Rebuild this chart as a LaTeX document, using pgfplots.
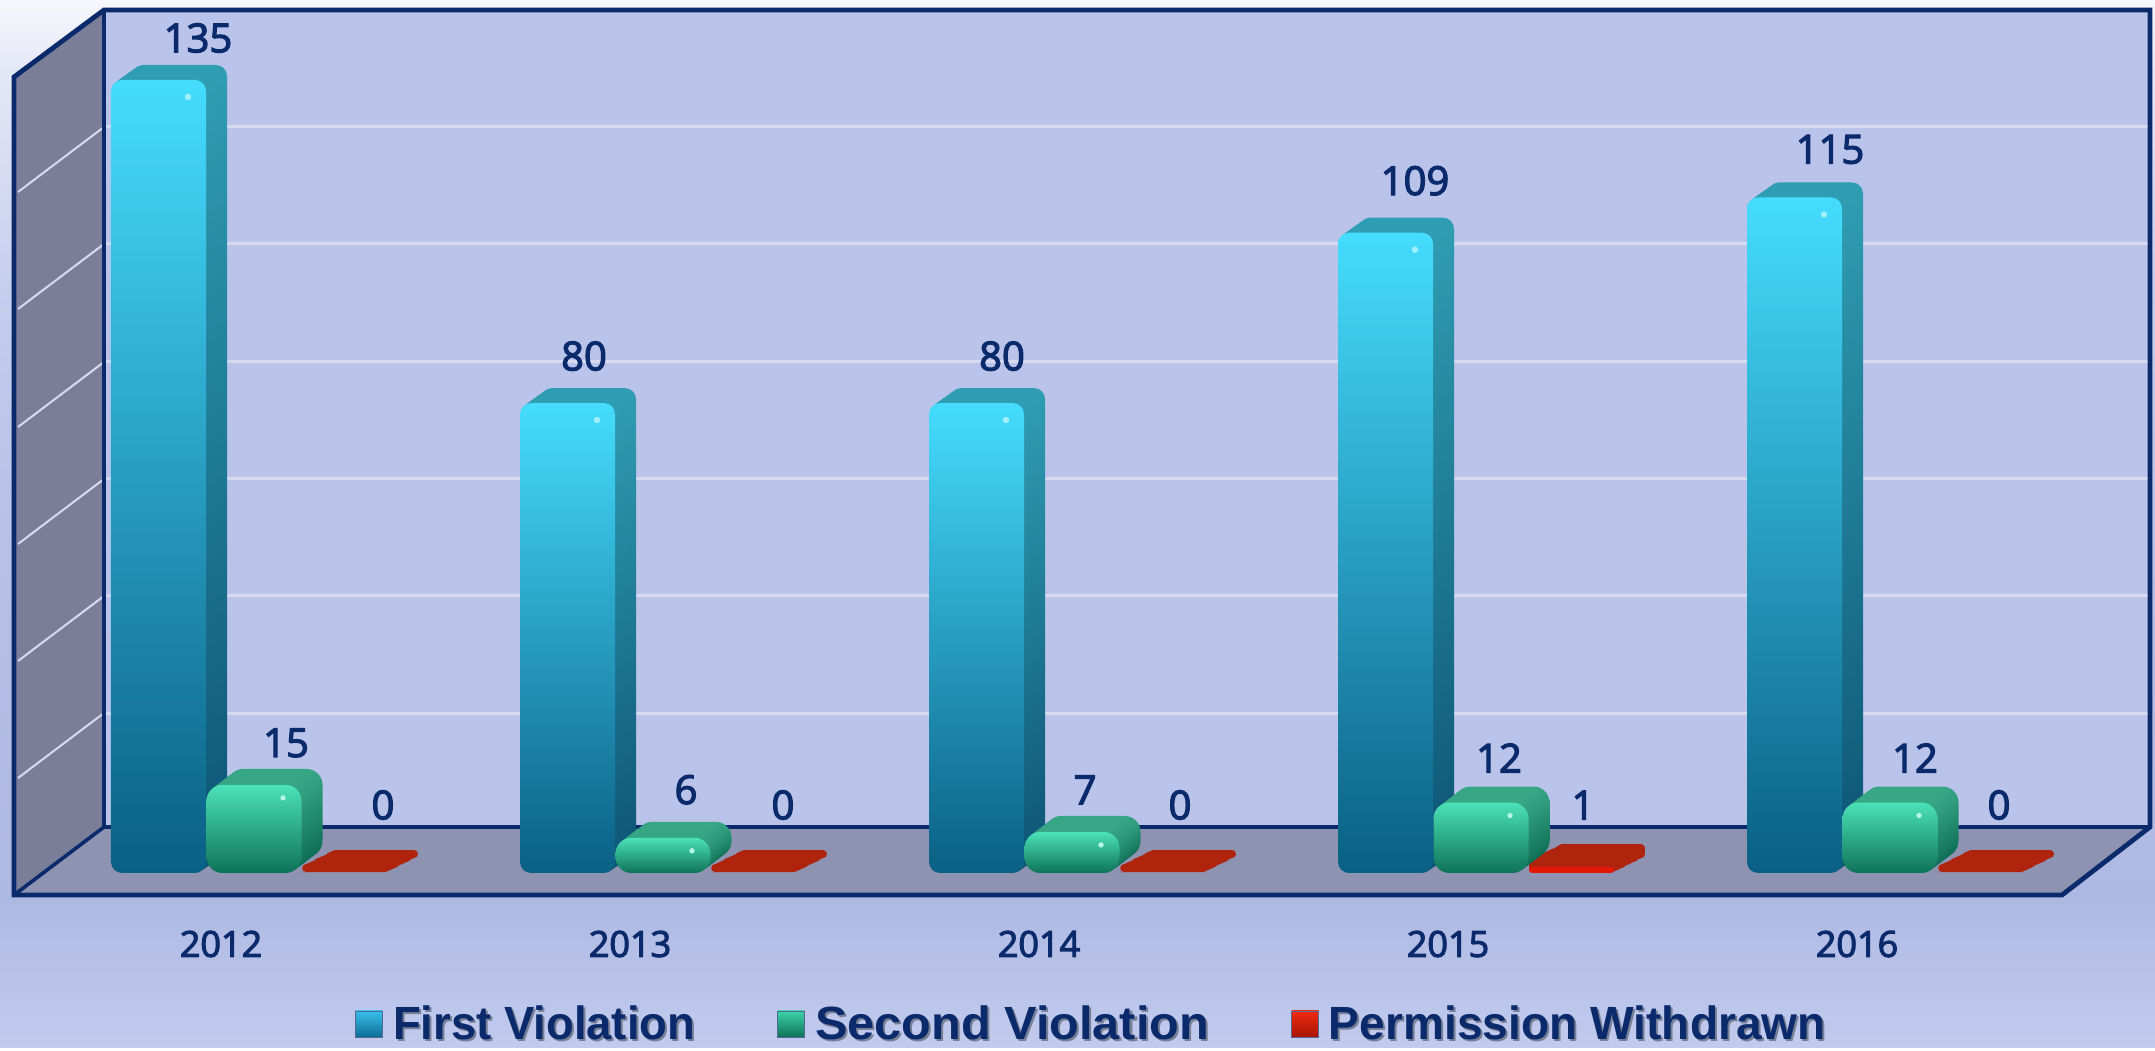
\documentclass[border=0pt]{standalone}
\usepackage{pgfplots}
\usepackage{pgfplotstable}
\usepackage{fontspec}
\pgfplotsset{compat=1.18}
\setmainfont{Open Sans}
\newfontfamily\medfont[FakeBold=3]{Open Sans}
\newfontfamily\legendfont{Liberation Sans}

% 1 reference pixel = 0.5pt
\definecolor{navy}{HTML}{0A2A6C}
\definecolor{wallback}{HTML}{BAC3E9}
\definecolor{sidewall}{HTML}{7B7E99}
\definecolor{floorc}{HTML}{8E93B1}
\definecolor{gridc}{HTML}{D6DBF2}
\definecolor{redtop}{HTML}{B0230C}
\definecolor{redfront}{HTML}{E21A05}
\definecolor{blueA}{HTML}{45DCFD}
\definecolor{blueB}{HTML}{28AADB}
\definecolor{blueC}{HTML}{0A5F84}
\definecolor{blueSideA}{HTML}{2F9DB3}
\definecolor{blueSideB}{HTML}{0D5475}
\definecolor{greenA}{HTML}{4BE2B8}
\definecolor{greenB}{HTML}{2FB08E}
\definecolor{greenC}{HTML}{0E7258}
\definecolor{greenSideA}{HTML}{37A786}
\definecolor{greenSideB}{HTML}{0C6A52}
\definecolor{blueDot}{HTML}{9FF0FF}
\definecolor{greenDot}{HTML}{B8F7E4}
\definecolor{legBlueA}{HTML}{36C0EC}
\definecolor{legBlueB}{HTML}{0E6C94}
\definecolor{legGreenA}{HTML}{3DD3A8}
\definecolor{legRedA}{HTML}{F02A10}
\definecolor{legRedB}{HTML}{A81505}
\definecolor{bgA}{HTML}{C2CBEE}
\definecolor{bgB}{HTML}{AEB9E3}
\definecolor{bgC}{HTML}{B8C1E6}
\definecolor{bgD}{HTML}{C6CEEE}
\definecolor{bgE}{HTML}{E4E7F6}
\definecolor{bgF}{HTML}{F6F7FC}

\pgfdeclareverticalshading{bgshade}{100bp}{
  color(0bp)=(bgA); color(25bp)=(bgA); color(32bp)=(bgB); color(50bp)=(bgC);
  color(61bp)=(bgD); color(71.5bp)=(bgE); color(75bp)=(bgF); color(100bp)=(bgF)}

\pgfplotstableread{
idx first second withdrawn
0 135 15 0
1 80 6 0
2 80 7 0
3 109 12 1
4 115 12 0
}\violations

% labels: dx, up = offset in reference pixels from the value on the tick
\pgfplotstableread{
idx value dx up
0 135 -23 42
1 80 -46 47
2 80 -37 47
3 109 -33 52
4 115 -27 48
0 15 65 42
1 6 56 48
2 7 46 42
3 12 51 44.5
4 12 58 44.5
0 0 162 68
1 0 153 68
2 0 141 68
3 1 135 62
4 0 142 68
}\barlabels

% pixel position in the reference -> axis coordinates
\newcommand{\PX}[2]{({(#1-221)/409},{(873-#2)/5.874})}
\newcommand{\shadowed}[2]{\scalebox{#1}[1]{\makebox[0pt][l]{\hspace{1pt}\raisebox{-1.2pt}{\textcolor{navy!25!gray!75!wallback}{#2}}}#2}}

% one 3D bar: column, index, bar shift, colour prefix, depth in y, corner radius
\newcommand{\onebar}[6]{
  \pgfplotsinvokeforeach{1,0.875,0.75,0.625,0.5,0.375,0.25,0.125}{
    \addplot[forget plot, ybar, bar width=47.5pt, bar shift=#3,
      restrict x to domain=#2:#2,
      xshift=##1*10.5pt, yshift=##1*#5, draw=none, rounded corners=#6,
      top color=#4SideA, bottom color=#4SideB]
      table[x=idx, y=#1] {\violations};
  }
  \addplot[forget plot, ybar, bar width=47.5pt, bar shift=#3,
    restrict x to domain=#2:#2, draw=none, rounded corners=#6,
    top color=#4A, middle color=#4B, bottom color=#4C]
    table[x=idx, y=#1] {\violations};
}

\begin{document}
\begin{tikzpicture}
\begin{axis}[
    scale only axis,
    width=1077.5pt, height=523.5pt,
    xmin=-0.54034, xmax=4.72861,
    ymin=-29.622, ymax=148.621,
    axis line style={draw=none},
    tick style={draw=none},
    axis background/.style={shading=bgshade},
    ytick=\empty,
    xtick={0,1,2,3,4},
    xticklabels={2012,2013,2014,2015,2016},
    xticklabel style={font=\medfont\fontsize{18}{18}\selectfont, text=navy, anchor=center, yshift=51.5pt},
    legend style={at={(axis description cs:0.507,0.022)}, anchor=center, draw=none, fill=none,
      font=\legendfont\bfseries\fontsize{23.3}{23.3}\selectfont, text=navy, legend columns=-1,
      /tikz/every odd column/.append style={column sep=3pt},
      /tikz/every even column/.append style={column sep=39pt}},
    /pgf/number format/assume math mode=true,
]
% frame
\fill[wallback] \PX{104}{10} -- \PX{2150}{10} -- \PX{2150}{827} -- \PX{104}{827} -- cycle;
\fill[sidewall] \PX{14}{77} -- \PX{104}{10} -- \PX{104}{827} -- \PX{14}{895} -- cycle;
\fill[floorc] \PX{14}{895} -- \PX{105}{827} -- \PX{2150}{827} -- \PX{2062}{895} -- cycle;
\pgfplotsinvokeforeach{127,244,362,479,596,713}{
  \draw[gridc, line width=1.5pt] \PX{104}{#1} -- \PX{2150}{#1};
  \draw[gridc, line width=1pt] \PX{18}{(#1+65)} -- \PX{104}{#1};
}
\draw[navy, line width=2.4pt, line join=miter] \PX{14}{895} -- \PX{14}{77} -- \PX{104}{10} -- \PX{2150}{10} -- \PX{2150}{827} -- \PX{2062}{895} -- cycle;
\draw[navy, line width=1.8pt] \PX{104}{10} -- \PX{104}{827} -- \PX{2150}{827};
\draw[navy, line width=1.8pt] \PX{14}{895} -- \PX{104}{827};

% third series: flat red plates
\pgfplotsinvokeforeach{1,0.92,0.84,0.76,0.68,0.6,0.52,0.44,0.36,0.28,0.2,0.12,0.04}{
  \addplot[forget plot, ybar, bar width=39.5pt, bar shift=61.75pt,
    xshift=#1*15pt, yshift=2pt+#1*7.5pt, draw=redtop, fill=redtop, line width=4pt, line join=round]
    table[x=idx, y=withdrawn] {\violations};
}
\addplot[forget plot, ybar, bar width=42.5pt, bar shift=61.75pt, draw=none, fill=redfront, rounded corners=1.5pt]
    table[x=idx, y=withdrawn] {\violations};

% first and second series
\onebar{first}{0}{-31.25pt}{blue}{7.5pt}{5.5pt}
\onebar{second}{0}{16.5pt}{green}{8pt}{8pt}
\onebar{first}{1}{-31.25pt}{blue}{7.5pt}{5.5pt}
\onebar{second}{1}{16.5pt}{green}{8pt}{8pt}
\onebar{first}{2}{-31.25pt}{blue}{7.5pt}{5.5pt}
\onebar{second}{2}{16.5pt}{green}{8pt}{8pt}
\onebar{first}{3}{-31.25pt}{blue}{7.5pt}{5.5pt}
\onebar{second}{3}{16.5pt}{green}{8pt}{8pt}
\onebar{first}{4}{-31.25pt}{blue}{7.5pt}{5.5pt}
\onebar{second}{4}{16.5pt}{green}{8pt}{8pt}

% small highlights
\addplot[forget plot, only marks, mark=*, mark size=1.4pt, xshift=-16.5pt, yshift=-8.5pt,
    mark options={draw=blueDot, fill=blueDot}] table[x=idx, y=first] {\violations};
\addplot[forget plot, only marks, mark=*, mark size=1.1pt, xshift=31pt, yshift=-6.5pt,
    mark options={draw=greenDot, fill=greenDot}] table[x=idx, y=second] {\violations};

% value labels
\addplot[forget plot, only marks, mark=none,
    nodes near coords,
    every node near coord/.append style={anchor=center, inner sep=0pt, text=navy,
      font=\medfont\fontsize{20}{20}\selectfont, /pgf/number format/assume math mode=true},
    point meta=\thisrow{value}]
    table[x expr=\thisrow{idx}+\thisrow{dx}/409, y expr=\thisrow{value}+\thisrow{up}/5.874] {\barlabels};

\addlegendimage{legend image code/.code={\shade[top color=legBlueA, bottom color=legBlueB, draw=navy!70] (0pt,-6.5pt) rectangle (13.5pt,6.5pt);}}
\addlegendentry{\shadowed{0.975}{First Violation}}
\addlegendimage{legend image code/.code={\shade[top color=legGreenA, bottom color=greenC, draw=navy!70] (0pt,-6.5pt) rectangle (13.5pt,6.5pt);}}
\addlegendentry{\shadowed{1.045}{Second Violation}}
\addlegendimage{legend image code/.code={\shade[top color=legRedA, bottom color=legRedB, draw=navy!70] (0pt,-6.5pt) rectangle (13.5pt,6.5pt);}}
\addlegendentry{\shadowed{0.99}{Permission Withdrawn}}
\end{axis}
\end{tikzpicture}
\end{document}
